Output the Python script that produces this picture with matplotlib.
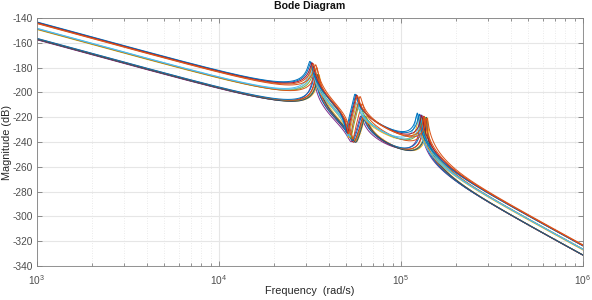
import numpy as np
import matplotlib
matplotlib.use("Agg")
import matplotlib.pyplot as plt
from matplotlib.ticker import LogLocator, NullFormatter, FixedLocator

plt.rcParams['font.family'] = ['Liberation Sans', 'DejaVu Sans']
plt.rcParams['mathtext.default'] = 'regular'
plt.rcParams['axes.unicode_minus'] = False

# ---- data (one entry per curve) ----
# low-frequency magnitude at 1e3 rad/s (dB)
lf_db = [-157.6, -157.3, -157.0, -156.8, -156.6, -156.4, -157.2,
         -149.3, -149.0, -148.8, -148.5, -148.3,
         -143.2, -143.5, -143.8, -144.2, -144.5]
# resonance / antiresonance frequencies (krad/s)
p1 = [33.0, 34.0, 34.8, 35.5, 34.3, 33.5, 35.0,
      32.5, 33.5, 34.5, 33.0, 32.2,
      31.6, 32.0, 32.5, 33.0, 34.0]
z1 = [53.5, 55.0, 56.0, 57.0, 55.5, 54.5, 56.5,
      51.5, 53.0, 54.5, 52.5, 51.0,
      50.0, 50.5, 51.0, 51.5, 53.0]
p2 = [60.0, 62.0, 63.0, 64.0, 62.5, 61.0, 63.5,
      57.0, 59.0, 61.0, 58.0, 56.5,
      55.8, 56.5, 57.0, 57.5, 59.5]
z2 = [105, 115, 122, 128, 121, 115, 122,
      126, 133, 145, 132, 125,
      143, 145, 147, 150, 154]
p3 = [128, 133, 137, 140, 134, 130, 138,
      125, 130, 136, 128, 122,
      123, 126, 130, 134, 139]
# damping ratios
zeta_p1 = [0.011, 0.010, 0.010, 0.010, 0.011, 0.011, 0.010,
           0.015, 0.015, 0.014, 0.015, 0.015,
           0.018, 0.018, 0.018, 0.018, 0.018]
zeta_p2 = [0.022, 0.022, 0.022, 0.022, 0.022, 0.022, 0.022,
           0.020, 0.020, 0.020, 0.020, 0.020,
           0.018, 0.018, 0.018, 0.018, 0.018]
zeta_p3 = [0.004, 0.004, 0.004, 0.004, 0.004, 0.004, 0.004,
           0.010, 0.010, 0.010, 0.010, 0.010,
           0.013, 0.013, 0.013, 0.013, 0.013]
zeta_z1 = [0.035, 0.035, 0.035, 0.035, 0.035, 0.035, 0.035,
           0.015, 0.015, 0.015, 0.015, 0.015,
           0.012, 0.012, 0.012, 0.012, 0.012]
zeta_z2 = 0.5
colors = ['#7E2F8E', '#A2142F', '#77AC30', '#EDB120', '#D95319', '#0072BD', '#2F4A6E',
          '#EDB120', '#77AC30', '#D95319', '#4DBEEE', '#4DBEEE',
          '#0072BD', '#0072BD', '#A2142F', '#D95319', '#D95319']

title = 'Bode Diagram'
xlabel = 'Frequency  (rad/s)'
ylabel = 'Magnitude (dB)'
yticks = list(range(-340, -139, 20))
xticks = [1e3, 1e4, 1e5, 1e6]
xticklabels = ['$10^{3}$', '$10^{4}$', '$10^{5}$', '$10^{6}$']

# ---- frequency response ----
w = np.logspace(3, 6, 6000)
s = 1j * w


def quad(s, wn, z):
    return 1 + 2 * z * s / wn + (s / wn) ** 2


W, H_ = 592, 300
fig = plt.figure(figsize=(W / 100, H_ / 100), dpi=100)
L, R, T, B = 37, 583, 18, 266
ax = fig.add_axes([L / W, 1 - B / H_, (R - L) / W, (B - T) / H_])

for i in range(len(lf_db)):
    H = (quad(s, z1[i] * 1e3, zeta_z1[i]) * quad(s, z2[i] * 1e3, zeta_z2)
         / (s ** 2 * quad(s, p1[i] * 1e3, zeta_p1[i]) * quad(s, p2[i] * 1e3, zeta_p2[i])
            * quad(s, p3[i] * 1e3, zeta_p3[i])))
    mag = 20 * np.log10(np.abs(H))
    mag = mag - mag[0] + lf_db[i]
    ax.semilogx(w, mag, color=colors[i], lw=0.7)

ax.set_xlim(1e3, 1e6)
ax.set_ylim(-340, -140)
ax.yaxis.set_major_locator(FixedLocator(yticks))
ax.set_xticks(xticks)
ax.set_xticklabels(xticklabels)
ax.xaxis.set_minor_locator(LogLocator(base=10, subs=np.arange(2, 10)))
ax.xaxis.set_minor_formatter(NullFormatter())

ax.grid(True, which='major', color='#e6e6e6', lw=0.8)
ax.grid(True, which='minor', axis='x', color='#e3e3e3', lw=0.6, linestyle=(0, (1, 2)))
ax.set_axisbelow(True)

for sp in ax.spines.values():
    sp.set_color('#808080')
    sp.set_linewidth(0.6)
ax.tick_params(which='both', direction='in', top=True, right=True, color='#666666',
               labelcolor='#4d4d4d', labelsize=7.3, width=0.5)
ax.tick_params(which='major', length=3.5)
ax.tick_params(which='minor', length=2)
ax.tick_params(axis='x', pad=5)
ax.tick_params(axis='y', pad=3)

fig.text((L + R) / 2 / W, 1 - 6 / H_, title, fontsize=7.6, fontweight='bold',
         color='#111111', ha='center', va='center')
fig.text((L + R) / 2 / W, 1 - 291 / H_, xlabel, fontsize=7.8, color='#262626',
         ha='center', va='center')
fig.text(7 / W, 1 - 142 / H_, ylabel, fontsize=7.8, color='#262626',
         ha='center', va='center', rotation=90)

fig.savefig('out.png', dpi=100)
